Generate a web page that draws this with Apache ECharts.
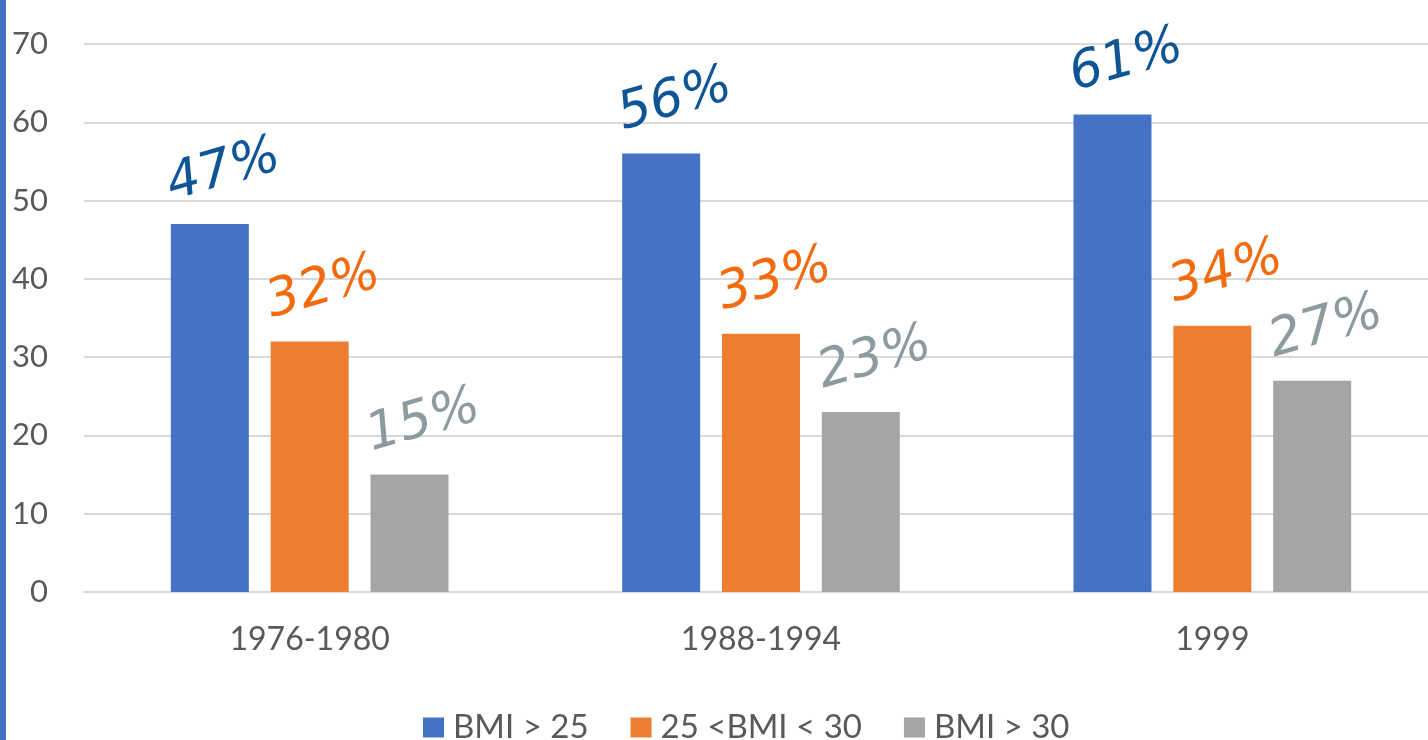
<!DOCTYPE html>
<html>
<head>
<meta charset="utf-8">
<style>
  html, body { margin: 0; padding: 0; background: #ffffff; }
  #chart { width: 1428px; height: 740px; }
</style>
<script src="https://cdn.jsdelivr.net/npm/echarts@6/dist/echarts.min.js"></script>
</head>
<body>
<div id="chart"></div>
<script>
// Survey periods on the category axis
const periods = ['1976-1980', '1988-1994', '1999'];

// Share of adults (%) in each BMI group
const seriesNames = ['BMI > 25', '25 <BMI < 30', 'BMI > 30'];
const bmiOver25 = [47, 56, 61];
const bmi25to30 = [32, 33, 34];
const bmiOver30 = [15, 23, 27];

// Value axis ticks
const yTicks = [0, 10, 20, 30, 40, 50, 60, 70];

const barColors = ['#4472C4', '#ED7D31', '#A5A5A5'];
const noteColors = ['#0d5596', '#f26b0f', '#8c9ba0'];
const values = [bmiOver25, bmi25to30, bmiOver30];

const chart = echarts.init(document.getElementById('chart'), null, { renderer: 'canvas' });

const axisFont = 'Lato, "Open Sans", sans-serif';

chart.setOption({
  animation: false,
  backgroundColor: '#ffffff',
  graphic: [{
    type: 'rect',
    left: 0, top: 0,
    shape: { x: 0, y: 0, width: 6, height: 740 },
    style: { fill: '#4472C4' },
    silent: true
  }],
  // the plot runs a little past the right edge of the page
  grid: { left: 84, top: 44, width: 1354, height: 548, containLabel: false, outerBoundsMode: 'none' },
  legend: {
    data: seriesNames,
    top: 706,
    left: 418,
    icon: 'rect',
    itemWidth: 21,
    itemHeight: 20,
    itemGap: 42,
    textStyle: { fontSize: 33, lineHeight: 33, color: '#595959', fontFamily: axisFont, padding: [0, 0, 0, 4] }
  },
  xAxis: {
    type: 'category',
    data: periods,
    axisLine: { show: true, lineStyle: { color: '#d9d9d9', width: 2 } },
    axisTick: { show: false },
    axisLabel: { fontSize: 32, color: '#595959', fontFamily: axisFont, margin: 32 }
  },
  yAxis: {
    type: 'value',
    min: yTicks[0],
    max: yTicks[yTicks.length - 1],
    interval: yTicks[1] - yTicks[0],
    axisLine: { show: false },
    axisTick: { show: false },
    axisLabel: { fontSize: 31, color: '#595959', fontFamily: axisFont, margin: 36 },
    splitLine: { lineStyle: { color: '#d9d9d9', width: 2 } }
  },
  series: seriesNames.map((name, i) => ({
    name: name,
    type: 'bar',
    data: values[i],
    barWidth: 78,
    barGap: '28%',
    itemStyle: { color: barColors[i] },
    label: {
      show: true,
      position: 'top',
      distance: 22,
      offset: [22, 0],
      rotate: 16,
      formatter: p => p.value + '%',
      fontSize: 52,
      fontStyle: 'italic',
      fontFamily: '"DejaVu Sans", sans-serif',
      fontWeight: 'normal',
      color: noteColors[i]
    }
  }))
});
</script>
</body>
</html>
